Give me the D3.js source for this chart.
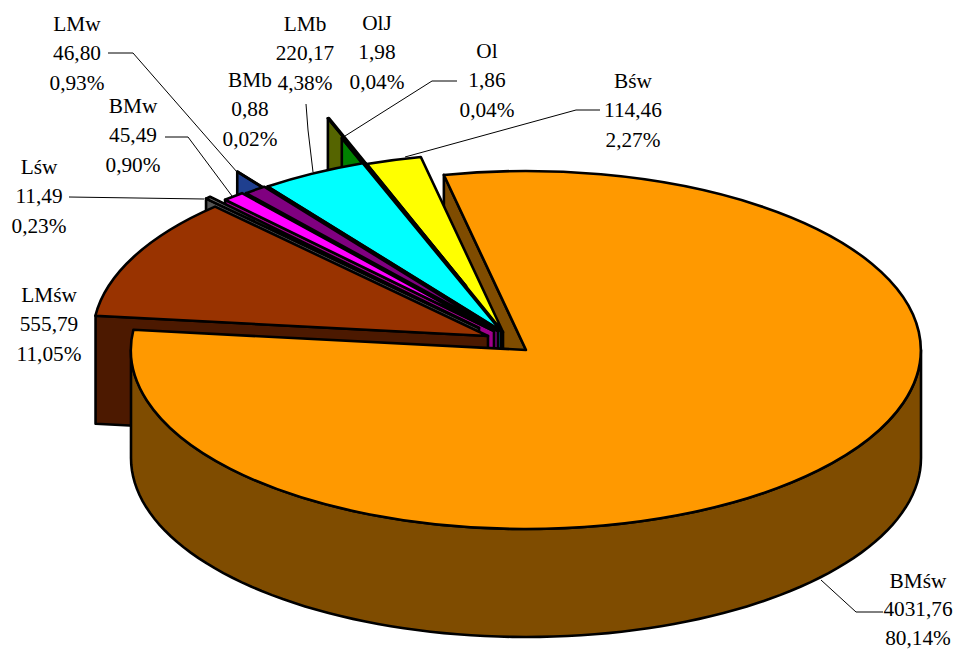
<!DOCTYPE html>
<html><head><meta charset="utf-8">
<script src="https://cdn.jsdelivr.net/npm/d3@7"></script>
<style>html,body{margin:0;padding:0;background:#fff}svg{display:block}
text{font-family:"Liberation Serif","Times New Roman",serif;font-size:21.3px;fill:#000;text-anchor:middle}</style>
</head><body><div id="chart"></div>
<script>
// data
const categories = ["BMśw","LMśw","Lśw","BMw","LMw","BMb","LMb","OlJ","Ol","Bśw"];
const values = [4031.76,555.79,11.49,45.49,46.80,0.88,220.17,1.98,1.86,114.46];
const valueLabels = ["4031,76","555,79","11,49","45,49","46,80","0,88","220,17","1,98","1,86","114,46"];
const percentLabels = ["80,14%","11,05%","0,23%","0,90%","0,93%","0,02%","4,38%","0,04%","0,04%","2,27%"];
// styles
const topColors = ["#FF9900","#993300","#808080","#FF00FF","#800080","#1F3F8F","#00FFFF","#557000","#008000","#FFFF00"];
const wallColors = ["#7F4C00","#4C1900","#555555","#A0008C","#800080","#1F3F8F","#008080","#556400","#008000","#999900"];
// layout
const W=956,H=650,cx=526,cy=350,rx=395,ry=179,depth=108,startDeg=-12;
const explodeX=[0,-38,-47,-32,-28,-55,-25,-60,-47,-23];
const explodeY=[0,-14,-22,-19,-19,-34,-19,-64,-44,-18];
const labelX=[918,49,39,133,77,250,305,377,487,633];
const labelY=[587.5,302,174,113,31,87,31,30,58,88];
const lineGaps=[28.7,29.3,29.3,29.3,29.3,29.3,29.3,29.3,29.3,29.3];
const leaders=[[[883,612],[856,612],[821,580]],null,[[69,197],[204,199]],[[165,137],[188,137],[232,196]],
 [[108,53],[133,53],[237,172]],null,[[306,104],[308,130],[313,172]],null,[[457,81],[432,81],[345,136]],[[600,110],[576,110],[405,157]]];
const paintOrder=[9,7,8,6,5,4,3,2,1];

const svg=d3.select("#chart").append("svg").attr("width",W).attr("height",H);
const pie=d3.pie().sort(null).startAngle(startDeg*Math.PI/180).endAngle((startDeg+360)*Math.PI/180);
const arcs=pie(values);
const x=d3.scaleLinear().domain([-1,1]).range([cx-rx,cx+rx]);
const y=d3.scaleLinear().domain([-1,1]).range([cy-ry,cy+ry]);
const pt=(a,i,r=1)=>[x(r*Math.sin(a))+explodeX[i],y(-r*Math.cos(a))+explodeY[i]];
const arcGen=d3.arc().innerRadius(0).outerRadius(1);
const ln=d3.line();
const sw=2.6;

function startWall(i){
  const d=arcs[i],S=pt(d.startAngle,i),T=pt(0,i,0);
  svg.append("path").attr("d",ln([S,T,[T[0],T[1]+depth],[S[0],S[1]+depth]])+"Z")
    .attr("fill",wallColors[i]).attr("stroke","#000").attr("stroke-width",sw).attr("stroke-linejoin","round");
}
function topFace(i){
  svg.append("path").attr("d",arcGen(arcs[i]))
    .attr("transform",`translate(${x(0)+explodeX[i]},${y(0)+explodeY[i]}) scale(${rx},${ry})`)
    .attr("fill",topColors[i]).attr("stroke","#000").attr("stroke-width",sw)
    .attr("stroke-linejoin","round").attr("vector-effect","non-scaling-stroke");
}
function band(i,angle,shift,w){
  const A=pt(angle,i),T=pt(0,i,0);
  svg.append("path").attr("d",ln([[A[0]+shift,A[1]],[T[0]+shift,T[1]]])).attr("stroke","#000").attr("stroke-width",w);
}
// back to front
startWall(0);
paintOrder.forEach(i=>{
  startWall(i);
  topFace(i);
  if(i===9) band(9,arcs[9].startAngle,-3,6);
  if(i===5) band(6,arcs[6].startAngle,-1,4);
});
// orange outer wall
const samples=d3.range(90,271,2).map(t=>t*Math.PI/180);
const wallPts=samples.map(a=>[x(Math.sin(a)),y(-Math.cos(a))]);
svg.append("path").attr("d",ln(wallPts.concat(wallPts.map(p=>[p[0],p[1]+depth]).reverse()))+"Z")
  .attr("fill",wallColors[0]).attr("stroke","#000").attr("stroke-width",sw).attr("stroke-linejoin","round");
topFace(0);
// leaders
leaders.forEach(l=>{ if(l) svg.append("path").attr("d",ln(l)).attr("fill","none").attr("stroke","#000").attr("stroke-width",1); });
// labels
categories.forEach((c,i)=>{
  [c,valueLabels[i],percentLabels[i]].forEach((s,j)=>{
    svg.append("text").attr("x",labelX[i]).attr("y",labelY[i]+j*lineGaps[i]).text(s);
  });
});
</script></body></html>
